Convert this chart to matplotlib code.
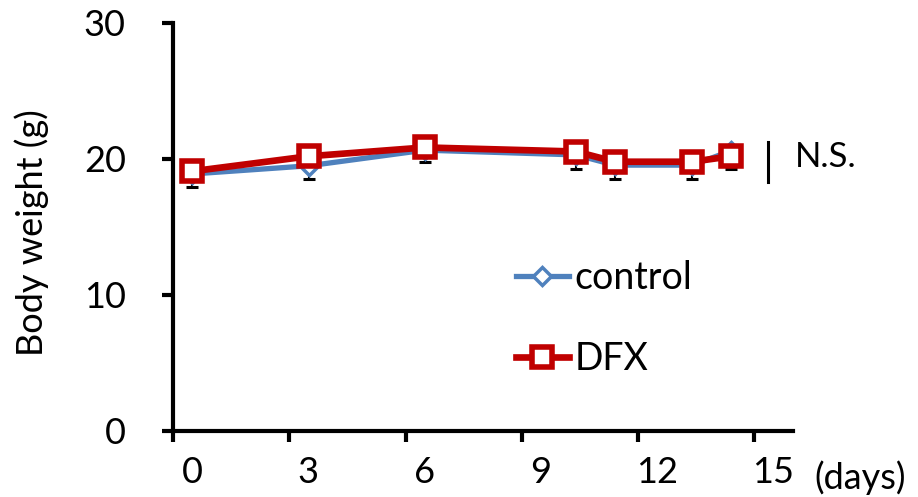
import matplotlib
matplotlib.use("Agg")
import matplotlib.pyplot as plt
import matplotlib.transforms as mtransforms

# ---- data ----
days = [0.5, 3.5, 6.5, 10.4, 11.4, 13.4, 14.4]
control = [18.9, 19.5, 20.65, 20.3, 19.55, 19.55, 20.6]
control_err = [0.95, 1.0, 0.9, 1.0, 1.0, 1.0, 1.3]
dfx = [19.1, 20.2, 20.85, 20.55, 19.8, 19.8, 20.2]
xticks = [0, 3, 6, 9, 12, 15]
yticks = [0, 10, 20, 30]
series_names = ["control", "DFX"]

plt.rcParams['font.family'] = ['Lato', 'DejaVu Sans']

fig = plt.figure(figsize=(9.18, 4.97), dpi=100)
ax = fig.add_axes([173/918, 1 - 431/497, 620/918, 408/497])

blue = '#4F81BD'
red = '#C00000'

ax.errorbar(days, control, yerr=[control_err, [0]*len(control_err)], fmt='none',
            ecolor='black', elinewidth=1.5, capsize=4, capthick=2.2, zorder=2)
ax.plot(days, control, color=blue, lw=3.8, marker='D', markersize=9,
        markerfacecolor='white', markeredgecolor=blue, markeredgewidth=2.5,
        label=series_names[0], zorder=3)
ax.plot(days, dfx, color=red, lw=4.8, marker='s', markersize=14.5,
        markerfacecolor='white', markeredgecolor=red, markeredgewidth=4,
        label=series_names[1], zorder=4)

ax.set_xlim(0, 16)
ax.set_ylim(0, 30)
ax.set_xticks(xticks)
ax.set_yticks(yticks)
ax.set_xticklabels([str(t) for t in xticks])
ax.set_yticklabels([str(t) for t in yticks])

for s in ['top', 'right']:
    ax.spines[s].set_visible(False)
for s in ['left', 'bottom']:
    ax.spines[s].set_linewidth(3)
    ax.spines[s].set_color('black')

ax.tick_params(axis='both', direction='out', length=8, width=3, colors='black',
               labelsize=26)
ax.tick_params(axis='y', pad=26)
ax.tick_params(axis='x', pad=10)

# shift x tick labels to the right like the reference
offset = mtransforms.ScaledTranslation(19/100, 0, fig.dpi_scale_trans)
for lab in ax.get_xticklabels():
    lab.set_transform(lab.get_transform() + offset)

ax.set_ylabel('Body weight (g)', fontsize=26)
ax.yaxis.set_label_coords(-0.2, 0.485)

ax.text(1.035, -0.115, '(days)', transform=ax.transAxes, fontsize=26,
        ha='left', va='center')

# N.S. bracket
ax.plot([15.36, 15.36], [18.3, 21.25], color='black', lw=2.2, clip_on=False)
ax.text(16.06, 20.15, 'N.S.', fontsize=25, ha='left', va='center')

leg = ax.legend(loc='upper left', bbox_to_anchor=(0.553, 0.419), frameon=False,
                fontsize=27, handlelength=1.41, handletextpad=0.16,
                labelspacing=1.21, borderpad=0, borderaxespad=0)

fig.savefig('out.png', dpi=100, facecolor='white')
